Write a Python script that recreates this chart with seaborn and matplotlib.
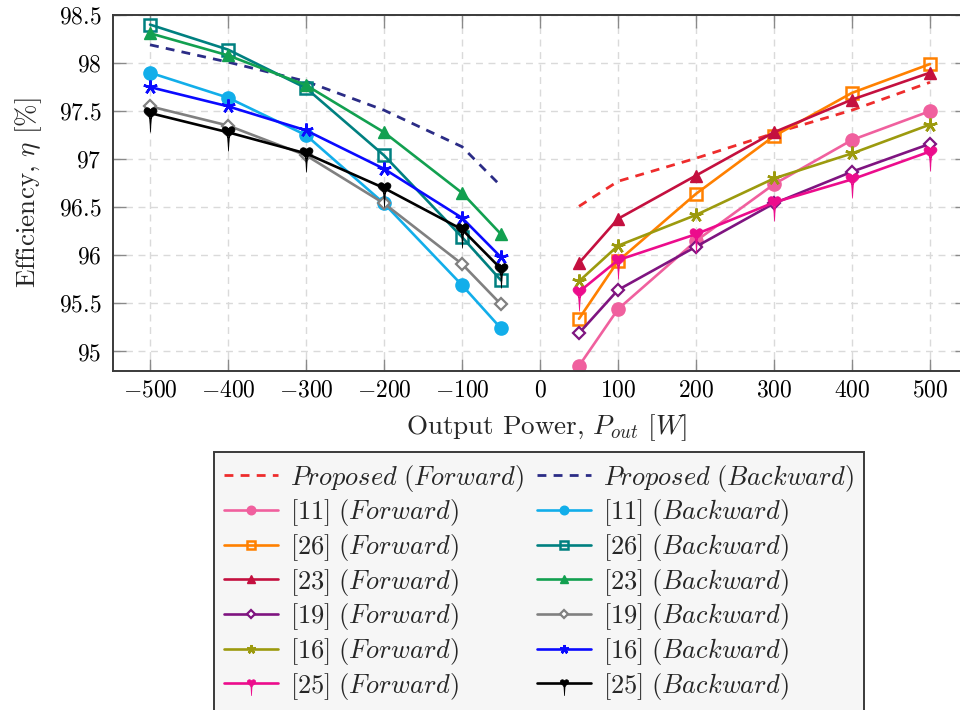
import numpy as np
import pandas as pd
import matplotlib
matplotlib.use("Agg")
import matplotlib.pyplot as plt
from matplotlib.path import Path
import seaborn as sns

# ---------------- data ----------------
x_backward = [-500, -400, -300, -200, -100, -50]
x_forward = [50, 100, 200, 300, 400, 500]

prop_fwd = [96.51, 96.77, 97.01, 97.27, 97.51, 97.80]
prop_bwd = [98.19, 98.01, 97.81, 97.51, 97.13, 96.72]

r11_fwd = [94.85, 95.44, 96.15, 96.74, 97.20, 97.50]
r11_bwd = [97.90, 97.64, 97.25, 96.54, 95.69, 95.24]
r26_fwd = [95.34, 95.94, 96.64, 97.24, 97.69, 97.99]
r26_bwd = [98.40, 98.14, 97.74, 97.04, 96.19, 95.74]
r23_fwd = [95.92, 96.38, 96.83, 97.28, 97.62, 97.90]
r23_bwd = [98.31, 98.08, 97.77, 97.28, 96.65, 96.22]
r19_fwd = [95.19, 95.64, 96.09, 96.54, 96.87, 97.16]
r19_bwd = [97.55, 97.35, 97.04, 96.54, 95.91, 95.49]
r16_fwd = [95.73, 96.10, 96.42, 96.80, 97.06, 97.36]
r16_bwd = [97.75, 97.55, 97.30, 96.90, 96.39, 95.98]
r25_fwd = [95.62, 95.95, 96.22, 96.55, 96.79, 97.08]
r25_bwd = [97.48, 97.28, 97.06, 96.70, 96.27, 95.86]

x_ticks = [-500, -400, -300, -200, -100, 0, 100, 200, 300, 400, 500]
y_ticks = [95, 95.5, 96, 96.5, 97, 97.5, 98, 98.5]
y_tick_labels = ["95", "95.5", "96", "96.5", "97", "97.5", "98", "98.5"]

# ---------------- style ----------------
sns.set_theme(style="white")
plt.rcParams["font.family"] = ["cmr10", "DejaVu Serif"]
plt.rcParams["mathtext.fontset"] = "cm"
plt.rcParams["axes.formatter.use_mathtext"] = True
plt.rcParams["axes.unicode_minus"] = False

FS_TICK = 17
FS_LABEL = 19.5
FS_LEG = 19

# custom "pin/heart" marker for [25]
t = np.linspace(0, 2 * np.pi, 60)
hx = 16 * np.sin(t) ** 3 / 16.0
hy = (13 * np.cos(t) - 5 * np.cos(2 * t) - 2 * np.cos(3 * t) - np.cos(4 * t)) / 16.0
heart = Path(np.column_stack([hx, hy + 0.15]), closed=True)
tail = Path([(-0.14, -0.6), (0.0, -2.9), (0.14, -0.6), (-0.14, -0.6)], closed=True)
pin_marker = Path.make_compound_path(heart, tail)

fig = plt.figure(figsize=(9.6, 7.1), dpi=100)
L, R, T, B = 112.6, 967.4, 15.0, 370.7
ax = fig.add_axes([L / 960, 1 - B / 710, (R - L) / 960, (B - T) / 710])

series = [
    # label, x, y, color, marker, ms, mfc, mew, dashed
    (r"$Proposed\ (Forward)$", x_forward, prop_fwd, "#ee2c2c", None, 0, None, 0, True),
    (r"$[11]\ (Forward)$", x_forward, r11_fwd, "#f0609e", "o", 9.5, None, 1, False),
    (r"$[26]\ (Forward)$", x_forward, r26_fwd, "#ff8000", "s", 9, "none", 1.8, False),
    (r"$[23]\ (Forward)$", x_forward, r23_fwd, "#c4103f", "^", 9, None, 1, False),
    (r"$[19]\ (Forward)$", x_forward, r19_fwd, "#7f1480", "D", 6, "white", 1.6, False),
    (r"$[16]\ (Forward)$", x_forward, r16_fwd, "#9c9a0e", (5, 2, 0), 10, None, 1.8, False),
    (r"$[25]\ (Forward)$", x_forward, r25_fwd, "#ec0c8c", pin_marker, 27, None, 0.5, False),
    (r"$Proposed\ (Backward)$", x_backward, prop_bwd, "#2b2c86", None, 0, None, 0, True),
    (r"$[11]\ (Backward)$", x_backward, r11_bwd, "#12aeea", "o", 9.5, None, 1, False),
    (r"$[26]\ (Backward)$", x_backward, r26_bwd, "#008080", "s", 9, "none", 1.8, False),
    (r"$[23]\ (Backward)$", x_backward, r23_bwd, "#12a050", "^", 9, None, 1, False),
    (r"$[19]\ (Backward)$", x_backward, r19_bwd, "#808080", "D", 6, "white", 1.6, False),
    (r"$[16]\ (Backward)$", x_backward, r16_bwd, "#0a0aff", (5, 2, 0), 10, None, 1.8, False),
    (r"$[25]\ (Backward)$", x_backward, r25_bwd, "#000000", pin_marker, 27, None, 0.5, False),
]

handles = []
for label, xs, ys, col, mk, ms, mfc, mew, dashed in series:
    df = pd.DataFrame({"x": xs, "y": ys})
    n_before = len(ax.lines)
    kw = dict(color=col, linewidth=1.9, label=label)
    if mk is not None:
        kw.update(marker=mk, markersize=ms, markeredgecolor=col,
                  markerfacecolor=(col if mfc is None else mfc), markeredgewidth=mew)
    sns.lineplot(data=df, x="x", y="y", ax=ax, sort=False, legend=False, **kw)
    line = ax.lines[n_before]
    if dashed:
        line.set_linewidth(2.0)
        line.set_dashes((3.2, 2.6))
    handles.append(line)

ax.set_xlim(-548, 548)
ax.set_ylim(94.8, 98.5)
ax.set_xticks(x_ticks)
ax.set_xticklabels([r"$%d$" % v for v in x_ticks])
ax.set_yticks(y_ticks)
ax.set_yticklabels([r"$%s$" % s for s in y_tick_labels])

ax.grid(True, color="#dadada", linestyle=(0, (5, 4)), linewidth=1.0)
ax.set_axisbelow(True)
for sp in ax.spines.values():
    sp.set_color("#3a3a3a")
    sp.set_linewidth(1.4)

ax.tick_params(axis="both", which="major", direction="in", length=9, width=1.0,
               color="#8a8a8a", labelsize=FS_TICK, labelcolor="black",
               top=True, right=True, bottom=True, left=True)
ax.tick_params(axis="x", pad=6)
ax.tick_params(axis="y", pad=8)

ax.set_xlabel(r"Output Power, $P_{out}$ $[W]$", fontsize=FS_LABEL, va="center")
ax.set_ylabel(r"Efficiency, $\eta$ [%]", fontsize=FS_LABEL, va="center")
ax.xaxis.set_label_coords((547 - L) / (R - L), (B - 428) / (B - T))
ax.yaxis.set_label_coords((29 - L) / (R - L), (B - 193) / (B - T))

leg = fig.legend(handles=handles, labels=[s[0] for s in series], ncol=2,
                 loc="upper center", bbox_to_anchor=(539 / 960, 1 - 452 / 710),
                 bbox_transform=fig.transFigure, fontsize=FS_LEG, frameon=True,
                 fancybox=False, edgecolor="#3a3a3a", facecolor="#f6f6f6",
                 framealpha=1.0, handlelength=2.05, handletextpad=0.45,
                 columnspacing=0.5, labelspacing=0.14, borderpad=0.4,
                 markerscale=0.65, borderaxespad=0)
leg.get_frame().set_linewidth(1.4)

fig.savefig("out.png", dpi=100)
